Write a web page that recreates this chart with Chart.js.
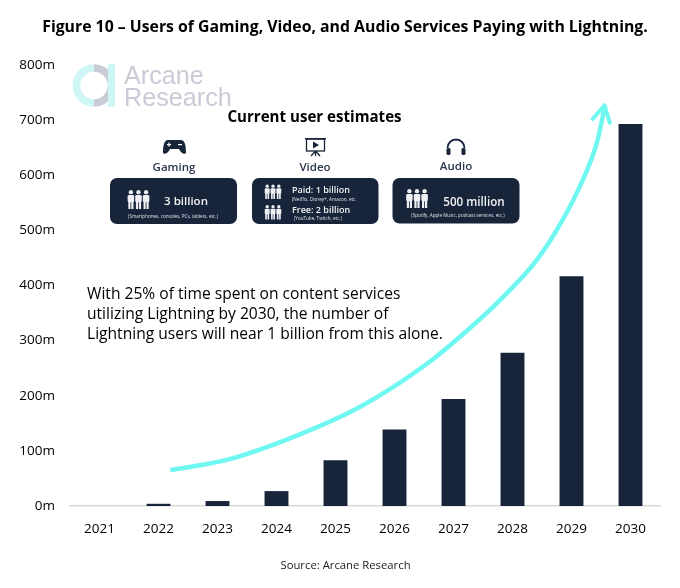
<!DOCTYPE html>
<html><head><meta charset="utf-8">
<style>html,body{margin:0;padding:0;background:#fff}canvas{display:block}</style>
<script src="https://cdn.jsdelivr.net/npm/chart.js@4"></script>
</head><body>
<canvas id="c" width="680" height="588" style="width:680px;height:588px"></canvas>
<script>
const categories = ['2021','2022','2023','2024','2025','2026','2027','2028','2029','2030'];
const users = [0,4,9,27,83,139,194,278,417,693];
const curveX = [1.20,2.17,3.28,4.42,5.55,6.28,6.84,7.41,7.85,8.19,8.43,8.56];
const curveY = [65,84,125,180,258,323,379,446,519,591,659,722];
const headX = [8.36,8.56,8.65];
const headY = [702,727,695];
const titleText = 'Figure 10 – Users of Gaming, Video, and Audio Services Paying with Lightning.';
const sourceText = 'Source: Arcane Research';
const noteLines = ['With 25% of time spent on content services','utilizing Lightning by 2030, the number of','Lightning users will near 1 billion from this alone.'];

const NAVY = '#18243a', CYAN = '#6ff8f2';
const FONT = '"Open Sans"';

function zip(xs, ys){ return xs.map((x,i)=>({x, y:ys[i]})); }
function rr(ctx,x,y,w,h,r){ ctx.beginPath(); ctx.roundRect(x,y,w,h,r); }
function txt(ctx,s,x,y,font,color,align){ ctx.font=font; ctx.fillStyle=color; ctx.textAlign=align||'left'; ctx.textBaseline='alphabetic'; ctx.fillText(s,x,y); }
function person(ctx,x,y,h){
  const u=h/14;
  ctx.beginPath(); ctx.arc(x,y+1.6*u,1.6*u,0,7); ctx.fill();
  rr(ctx,x-2.4*u,y+3.6*u,4.8*u,5.4*u,1*u); ctx.fill();
  ctx.fillRect(x-1.9*u,y+8*u,1.6*u,6*u); ctx.fillRect(x+0.3*u,y+8*u,1.6*u,6*u);
}
function people(ctx,x,y,h){ ctx.fillStyle='#eef0f3'; const g=h*0.4; person(ctx,x-g,y,h); person(ctx,x,y,h); person(ctx,x+g,y,h); }

const overlay = {
  id:'overlay',
  beforeDatasetsDraw(chart){
    const ctx=chart.ctx; ctx.save();
    // title
    txt(ctx,titleText,345,32,'bold 15.8px '+FONT,'#000','center');
    // logo
    ctx.lineWidth=7.5;
    ctx.strokeStyle='#cdf6f5'; ctx.beginPath(); ctx.arc(94,85.5,17.5,Math.PI*0.5,Math.PI*1.5); ctx.stroke();
    ctx.strokeStyle='#c9ccd6'; ctx.beginPath(); ctx.arc(94,85.5,17.5,-Math.PI*0.5,Math.PI*0.5); ctx.stroke();
    ctx.fillStyle='#cdf6f5'; ctx.fillRect(108,64,7,43);
    txt(ctx,'Arcane',124,84,'25.2px "Liberation Sans"','#c9ccd6');
    txt(ctx,'Research',124,106,'25.2px "Liberation Sans"','#c9ccd6');
    // heading
    txt(ctx,'Current user estimates',314.5,122,'bold 15.1px '+FONT,'#000','center');
    // icons
    ctx.fillStyle=NAVY; ctx.strokeStyle=NAVY;
    // gamepad
    ctx.beginPath(); ctx.moveTo(168,140); ctx.lineTo(181,140);
    ctx.bezierCurveTo(185,140,186,146,186,153); ctx.bezierCurveTo(184,155,181,153,179,149);
    ctx.lineTo(170,149); ctx.bezierCurveTo(168,153,165,155,163,153);
    ctx.bezierCurveTo(163,146,164,140,168,140); ctx.closePath(); ctx.fill();
    ctx.fillStyle='#fff'; ctx.fillRect(167,144,4,1.2); ctx.fillRect(168.4,142.6,1.2,4); ctx.fillRect(178,144,4,1.2);
    // projector
    ctx.lineWidth=1.3; ctx.strokeRect(306.5,139,18,12);
    ctx.fillStyle=NAVY; ctx.fillRect(305,138,21,1.5);
    ctx.beginPath(); ctx.moveTo(313,141.5); ctx.lineTo(319,145); ctx.lineTo(313,148.5); ctx.closePath(); ctx.fill();
    ctx.beginPath(); ctx.moveTo(315.5,151); ctx.lineTo(311,156); ctx.moveTo(315.5,151); ctx.lineTo(320,156); ctx.moveTo(315.5,151); ctx.lineTo(315.5,156); ctx.stroke();
    // headphones
    ctx.lineWidth=1.8; ctx.beginPath(); ctx.arc(456,148,8.5,Math.PI,0); ctx.stroke();
    ctx.fillStyle=NAVY; rr(ctx,446.5,148,4,7,1.5); ctx.fill(); rr(ctx,461.5,148,4,7,1.5); ctx.fill();
    // icon labels
    txt(ctx,'Gaming',174,171,'600 11.5px '+FONT,'#2b364b','center');
    txt(ctx,'Video',315,171,'600 11.5px '+FONT,'#2b364b','center');
    txt(ctx,'Audio',456,170,'600 11.5px '+FONT,'#2b364b','center');
    // cards
    ctx.fillStyle=NAVY;
    rr(ctx,110,178,127,46,7); ctx.fill();
    rr(ctx,252,178,126.5,46,7); ctx.fill();
    rr(ctx,392.5,178,127,45.5,7); ctx.fill();
    people(ctx,138.5,190,19);
    txt(ctx,'3 billion',186,205,'600 11.5px '+FONT,'#f2f3f5','center');
    txt(ctx,'(Smartphones, consoles, PCs, tablets, etc.)',173,218,'4.6px '+FONT,'#dfe2e7','center');
    people(ctx,273,184.5,14.5);
    people(ctx,273,205,14.5);
    txt(ctx,'Paid: 1 billion',292,193,'600 9px '+FONT,'#f2f3f5');
    txt(ctx,'(Netflix, Disney+, Amazon, etc.',292,201,'4.6px '+FONT,'#dfe2e7');
    txt(ctx,'Free: 2 billion',292,213,'600 9px '+FONT,'#f2f3f5');
    txt(ctx,'(YouTube, Twitch, etc.)',294,220,'4.6px '+FONT,'#dfe2e7');
    people(ctx,417,189,19);
    txt(ctx,'500 million',474,206,'600 11.6px '+FONT,'#f2f3f5','center');
    txt(ctx,'(Spotify, Apple Music, podcast services, etc.)',458,217,'4.6px '+FONT,'#dfe2e7','center');
    // note
    noteLines.forEach((s,i)=>txt(ctx,s,87,299+i*19.9,'15.6px '+FONT,'#000'));
    ctx.restore();
  },
  afterDraw(chart){
    const ctx=chart.ctx; ctx.save();
    txt(ctx,sourceText,345.5,569,'11.3px '+FONT,'#222','center');
    ctx.restore();
  }
};

new Chart(document.getElementById('c'),{
  data:{
    labels:categories,
    datasets:[
      {type:'bar',data:users,backgroundColor:NAVY,grouped:false,barPercentage:0.405,categoryPercentage:1,order:2},
      {type:'line',xAxisID:'xa',data:zip(curveX,curveY),borderColor:CYAN,borderWidth:4.5,pointRadius:0,cubicInterpolationMode:'monotone',fill:false,order:1},
      {type:'line',xAxisID:'xa',data:zip(headX,headY),borderColor:CYAN,borderWidth:4,pointRadius:0,tension:0,fill:false,borderCapStyle:'round',borderJoinStyle:'round',order:1}
    ]
  },
  options:{
    responsive:false,animation:false,devicePixelRatio:1,
    layout:{padding:{left:0,right:20,top:65,bottom:0}},
    plugins:{
      legend:{display:false},tooltip:{enabled:false},title:{display:false}
    },
    scales:{
      x:{
        grid:{display:false,drawTicks:false},
        border:{color:'#d9d9d9',width:1.5},
        ticks:{color:'#000',font:{family:FONT,size:13.5},padding:15,maxRotation:0,autoSkip:false},
        afterFit(s){ s.height=82; }
      },
      xa:{type:'linear',min:-0.5,max:9.5,display:false},
      y:{
        min:0,max:800,
        grid:{display:false,drawTicks:false},
        border:{display:false},
        ticks:{stepSize:100,color:'#000',font:{family:FONT,size:13.5},padding:15,callback:v=>v+'m'},
        afterFit(s){ s.width=70; }
      }
    }
  },
  plugins:[overlay]
});
</script>
</body></html>
